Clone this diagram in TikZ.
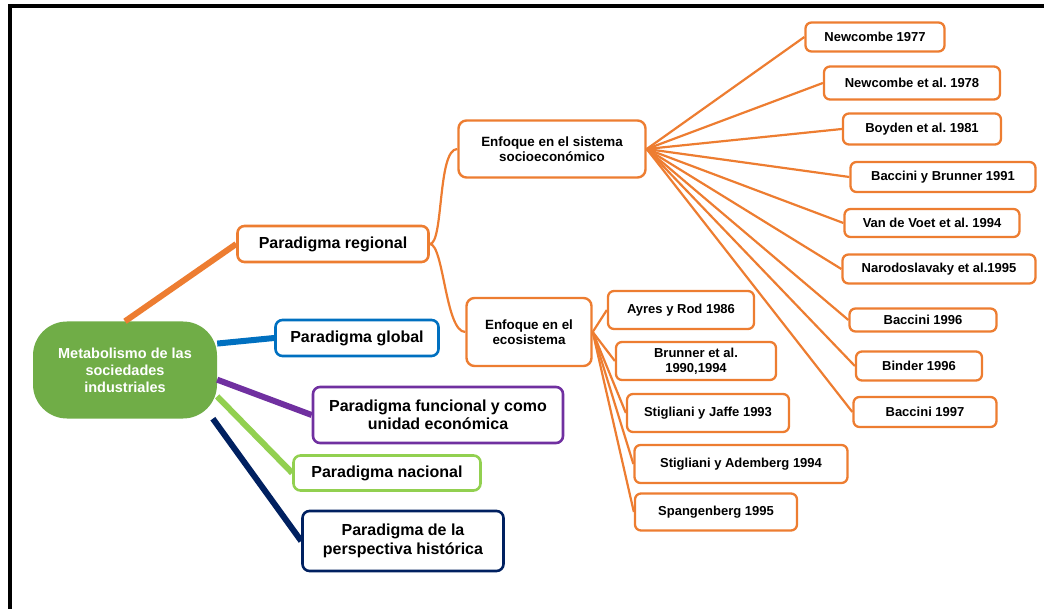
\documentclass[tikz,border=0pt]{standalone}
\usepackage{fontspec}
\setmainfont{Liberation Sans}
\usepackage{xcolor}
\definecolor{naranja}{HTML}{ED7D31}
\definecolor{verde}{HTML}{70AD47}
\definecolor{azul}{HTML}{0070C0}
\definecolor{morado}{HTML}{7030A0}
\definecolor{verdeclaro}{HTML}{92D050}
\definecolor{marino}{HTML}{002060}
\tikzstyle{raiz} = [fill=verde,text=white,rectangle,rounded corners=34pt,
  minimum width=184pt,minimum height=97pt,align=center,
  font=\bfseries\fontsize{14.5}{17}\selectfont]
\tikzstyle{paradigma} = [draw,fill=white,line width=2.6pt,rectangle,
  rounded corners=7pt,align=center,inner sep=2pt,
  font=\bfseries\fontsize{16}{18.5}\selectfont]
\tikzstyle{enfoque} = [draw=naranja,fill=white,line width=2.4pt,rectangle,
  rounded corners=8pt,align=center,inner sep=2pt,
  font=\bfseries\fontsize{13.4}{15}\selectfont]
\tikzstyle{autor} = [draw=naranja,fill=white,line width=2.3pt,rectangle,
  rounded corners=6pt,align=center,inner sep=2pt,
  font=\bfseries\fontsize{13}{15}\selectfont]
\tikzstyle{rama} = [line width=6pt]
\tikzstyle{hoja} = [draw=naranja,line width=2.2pt]

\begin{document}
\frenchspacing
\begin{tikzpicture}[x=1pt,y=-1pt]
    \useasboundingbox (0,0) rectangle (1044,609);
    \draw[line width=4pt] (9.5,609) -- (9.5,6) -- (1044,6);
    %
    \node [raiz] (soc) at (125,370) {Metabolismo de las\\sociedades\\industriales};
    \node [paradigma,draw=naranja,minimum width=191pt,minimum height=36pt] (reg) at (333,244) {Paradigma regional};
    \node [paradigma,draw=azul,minimum width=163pt,minimum height=36pt] (glo) at (357,338) {Paradigma global};
    \node [paradigma,draw=morado,minimum width=250pt,minimum height=56pt] (fun) at (438,415) {Paradigma funcional y como\\unidad económica};
    \node [paradigma,draw=verdeclaro,minimum width=187pt,minimum height=35pt] (nac) at (387,473) {Paradigma nacional};
    \node [paradigma,draw=marino,minimum width=201pt,minimum height=60pt] (his) at (403,541) {Paradigma de la\\perspectiva histórica};
    %
    \node [enfoque,minimum width=187pt,minimum height=57pt] (sis) at (552,149) {Enfoque en el sistema\\socioeconómico};
    \node [enfoque,minimum width=125pt,minimum height=68pt] (eco) at (529,332) {Enfoque en el\\ecosistema};
    %
    \node [autor,minimum width=139pt,minimum height=29pt] (nw77) at (875,37) {Newcombe 1977};
    \node [autor,minimum width=176pt,minimum height=33pt] (nw78) at (912,83) {Newcombe et al. 1978};
    \node [autor,minimum width=158pt,minimum height=31pt] (bo81) at (922,129) {Boyden et al. 1981};
    \node [autor,minimum width=185pt,minimum height=30pt] (bb91) at (943,177) {Baccini y Brunner 1991};
    \node [autor,minimum width=175pt,minimum height=28pt] (vv94) at (932,223) {Van de Voet et al. 1994};
    \node [autor,minimum width=193pt,minimum height=29pt] (na95) at (939,269) {Narodoslavaky et al.1995};
    \node [autor,minimum width=147pt,minimum height=23pt] (ba96) at (923,320) {Baccini 1996};
    \node [autor,minimum width=126pt,minimum height=29pt] (bi96) at (919,366) {Binder 1996};
    \node [autor,minimum width=143pt,minimum height=30pt] (ba97) at (925,412) {Baccini 1997};
    %
    \node [autor,minimum width=146pt,minimum height=38pt] (ay86) at (681,310) {Ayres y Rod 1986};
    \node [autor,minimum width=160pt,minimum height=38pt] (br90) at (696,361) {Brunner et al.\\1990,1994};
    \node [autor,minimum width=162pt,minimum height=38pt] (sj93) at (708,413) {Stigliani y Jaffe 1993};
    \node [autor,minimum width=213pt,minimum height=38pt] (sa94) at (741,464) {Stigliani y Ademberg 1994};
    \node [autor,minimum width=162pt,minimum height=37pt] (sp95) at (716,512) {Spangenberg 1995};
    %
    \draw [rama,naranja] (soc.north) -- (reg.west);
    \draw [rama,azul] (soc.16) -- (glo.west);
    \draw [rama,morado] (soc.-6) -- (fun.west);
    \draw [rama,verdeclaro] (soc.-16) -- (nac.west);
    \draw [rama,marino] (soc.-29) -- (his.west);
    %
    \draw [hoja] (reg.east) .. controls ([xshift=14pt]reg.east) and ([xshift=-20pt]sis.west) .. (sis.west);
    \draw [hoja] (reg.east) .. controls ([xshift=14pt]reg.east) and ([xshift=-20pt]eco.west) .. (eco.west);
    %
    \draw [hoja] (sis.east) -- (nw77.west);
    \draw [hoja] (sis.east) -- (nw78.west);
    \draw [hoja] (sis.east) -- (bo81.west);
    \draw [hoja] (sis.east) -- (bb91.west);
    \draw [hoja] (sis.east) -- (vv94.west);
    \draw [hoja] (sis.east) -- (na95.west);
    \draw [hoja] (sis.east) -- (ba96.west);
    \draw [hoja] (sis.east) -- (bi96.west);
    \draw [hoja] (sis.east) -- (ba97.west);
    %
    \draw [hoja] (eco.east) -- (ay86.west);
    \draw [hoja] (eco.east) -- (br90.west);
    \draw [hoja] (eco.east) -- (sj93.west);
    \draw [hoja] (eco.east) -- (sa94.west);
    \draw [hoja] (eco.east) -- (sp95.west);
\end{tikzpicture}
\end{document}
